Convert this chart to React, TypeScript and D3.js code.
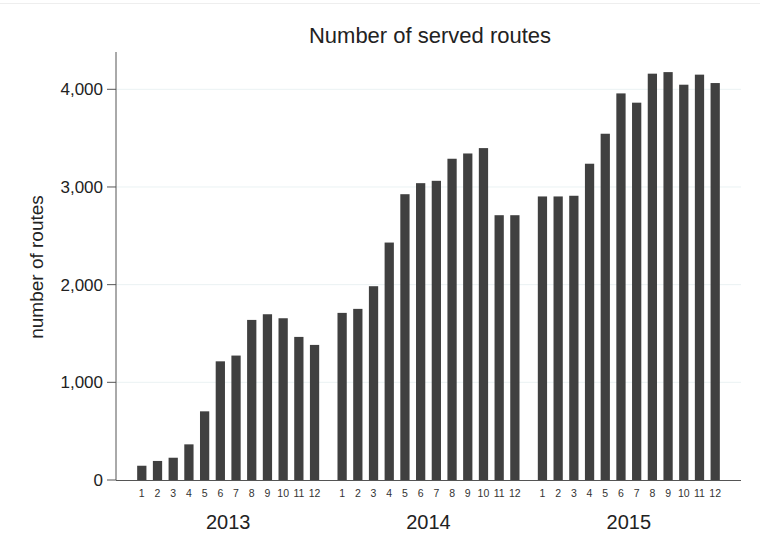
import React from "react";
import * as d3 from "d3";

const years = ["2013", "2014", "2015"];
const months = ["1", "2", "3", "4", "5", "6", "7", "8", "9", "10", "11", "12"];
const values2013 = [146, 195, 228, 365, 703, 1215, 1274, 1639, 1697, 1656, 1465, 1383];
const values2014 = [1711, 1752, 1984, 2431, 2926, 3039, 3063, 3289, 3343, 3398, 2711, 2711];
const values2015 = [2903, 2903, 2910, 3238, 3545, 3958, 3863, 4160, 4176, 4047, 4150, 4064];
const yTicks = [0, 1000, 2000, 3000, 4000];
const title = "Number of served routes";
const yTitle = "number of routes";

const seriesByYear = [values2013, values2014, values2015];

export default function App() {
  const W = 760;
  const H = 550;
  const left = 116;
  const right = 741;
  const top = 52;
  const bottom = 480;

  const x0 = d3.scaleBand<string>().domain(years).range([left, right]).paddingInner(0.06).paddingOuter(0.09);
  const x1 = d3.scaleBand<string>().domain(months).range([0, x0.bandwidth()]).paddingInner(0.41).paddingOuter(0.2);
  const y = d3.scaleLinear().domain([0, 4000]).range([bottom, 89.3]);
  const fmt = d3.format(",");
  const font = "Liberation Sans, Arial, sans-serif";

  return (
    <svg width={W} height={H} style={{ position: "absolute", left: 0, top: 0, background: "#fff" }} fontFamily={font}>
      <line x1={0} x2={W} y1={3.5} y2={3.5} stroke="#eeeeee" />
      <text x={(left + right) / 2 + 1.5} y={43.3} textAnchor="middle" fontSize={22} fill="#222">{title}</text>
      {yTicks.map((t) => (
        <g key={t}>
          {t > 0 && <line x1={left} x2={right} y1={y(t)} y2={y(t)} stroke="#eaf2f3" strokeWidth={1} />}
          <line x1={left - 9} x2={left} y1={y(t)} y2={y(t)} stroke="#555" />
          <text x={left - 13} y={y(t)} dy="0.36em" textAnchor="end" fontSize={17} fill="#222">{fmt(t)}</text>
        </g>
      ))}
      <text transform={`translate(43,267) rotate(-90)`} textAnchor="middle" fontSize={19} fill="#222">{yTitle}</text>
      {years.map((yr, i) => (
        <g key={yr} transform={`translate(${x0(yr)},0)`}>
          {seriesByYear[i].map((v, j) => (
            <rect key={j} x={x1(months[j])} y={y(v)} width={x1.bandwidth()} height={bottom - y(v)} fill="#404040" />
          ))}
          {months.map((m) => (
            <text key={m} x={(x1(m) as number) + x1.bandwidth() / 2} y={497.3} textAnchor="middle" fontSize={10.5} fill="#333">{m}</text>
          ))}
          <text x={x0.bandwidth() / 2} y={529.3} textAnchor="middle" fontSize={20} fill="#222">{yr}</text>
        </g>
      ))}
      <line x1={left} x2={left} y1={top} y2={bottom} stroke="#555" />
      <line x1={left} x2={right} y1={bottom + 0.5} y2={bottom + 0.5} stroke="#555" />
    </svg>
  );
}
